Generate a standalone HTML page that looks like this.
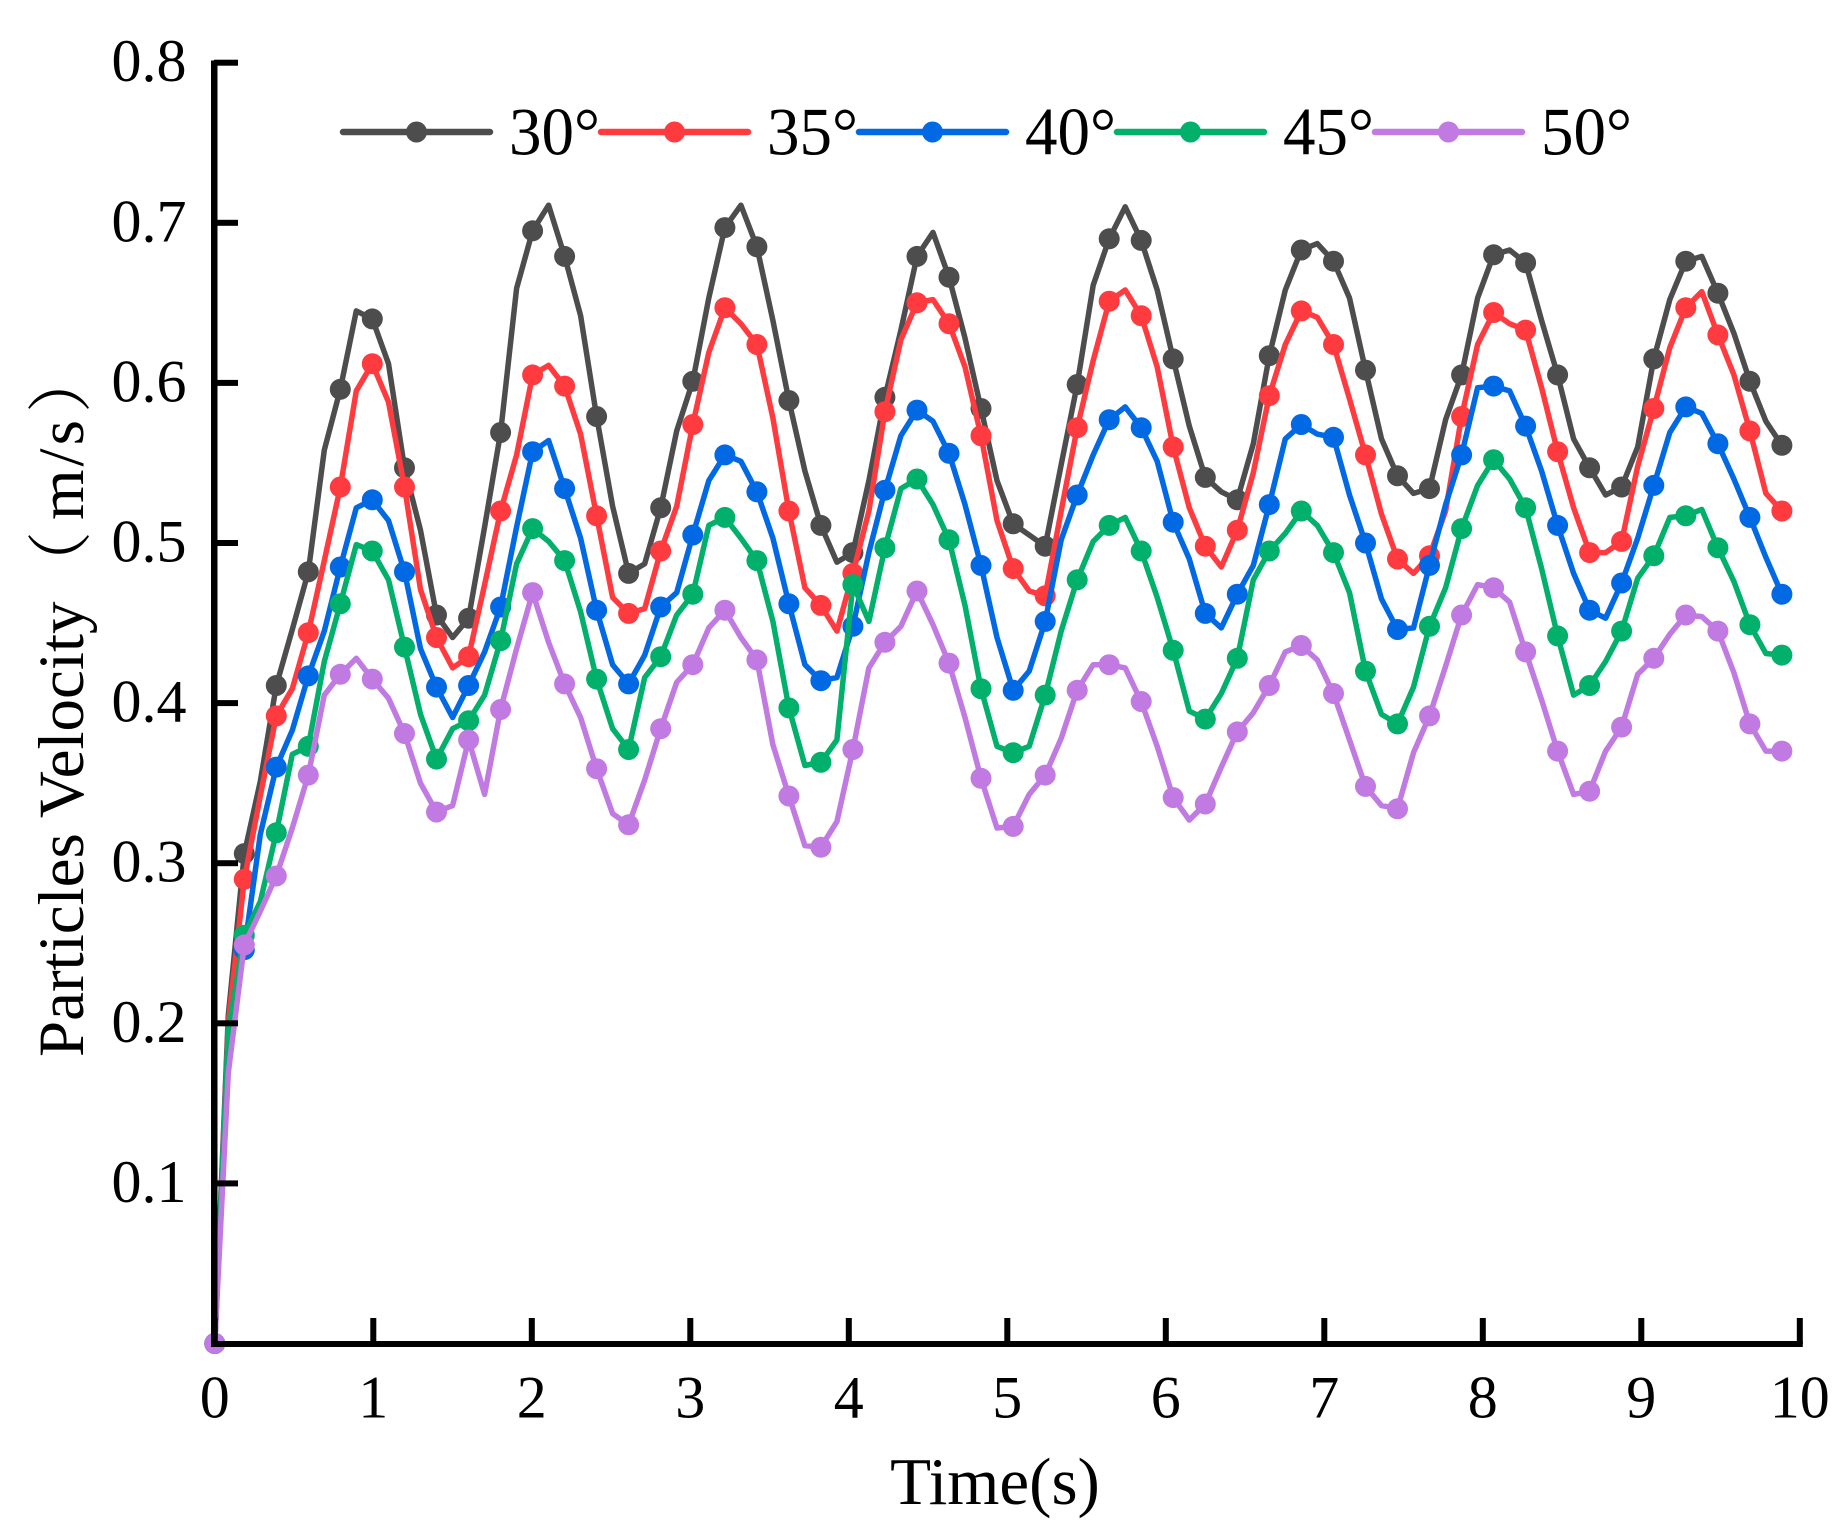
<!DOCTYPE html>
<html lang="en">
<head>
<meta charset="utf-8">
<title>Particles Velocity vs Time</title>
<style>
  html, body { margin: 0; padding: 0; background: #fff; }
  body { width: 1838px; height: 1536px; overflow: hidden; }
  svg { display: block; }
  text { font-family: "Liberation Serif", "Noto Serif CJK SC", serif; fill: #000; }
</style>
</head>
<body>
<svg id="chart" xmlns="http://www.w3.org/2000/svg" width="1838" height="1536" viewBox="0 0 1838 1536">
  <rect x="0" y="0" width="1838" height="1536" fill="#ffffff"></rect>
  <g id="series-layer"></g>
  <g id="axis-layer"></g>
  <g id="legend-layer"></g>
  <text x="995" y="1504" font-size="67" text-anchor="middle">Time(s)</text>
  <text transform="translate(83,1057) rotate(-90)" font-size="65"><tspan x="0">Particles Velocity</tspan><tspan x="461">（</tspan><tspan x="537">m</tspan><tspan dx="3">/</tspan><tspan dx="3">s</tspan><tspan x="644">）</tspan></text>
</svg>
<script>
const times = [
  0,0.085,0.186,0.287,0.388,0.489,0.590,0.691,0.792,0.893,
  0.994,1.096,1.197,1.298,1.399,1.500,1.601,1.702,1.803,1.904,
  2.005,2.106,2.207,2.308,2.409,2.510,2.611,2.712,2.813,2.914,
  3.016,3.117,3.218,3.319,3.420,3.521,3.622,3.723,3.824,3.925,
  4.026,4.127,4.228,4.329,4.430,4.531,4.632,4.733,4.834,4.935,
  5.037,5.138,5.239,5.340,5.441,5.542,5.643,5.744,5.845,5.946,
  6.047,6.148,6.249,6.350,6.451,6.552,6.653,6.754,6.855,6.956,
  7.058,7.159,7.260,7.361,7.462,7.563,7.664,7.765,7.866,7.967,
  8.068,8.169,8.270,8.371,8.472,8.573,8.674,8.775,8.876,8.977,
  9.079,9.180,9.281,9.382,9.483,9.584,9.685,9.786,9.887
];
const angle30 = [
  0,.205,.306,.351,.411,.446,.482,.558,.596,.645,
  .640,.612,.547,.508,.455,.441,.453,.510,.569,.659,
  .695,.711,.679,.642,.579,.523,.481,.487,.522,.570,
  .601,.653,.697,.711,.685,.639,.589,.545,.511,.488,
  .494,.539,.591,.633,.679,.694,.666,.628,.584,.539,
  .512,.505,.498,.549,.599,.661,.690,.710,.689,.658,
  .615,.573,.541,.532,.527,.562,.617,.658,.683,.687,
  .676,.653,.608,.565,.542,.531,.534,.577,.605,.653,
  .680,.683,.675,.639,.605,.565,.547,.530,.535,.560,
  .615,.652,.676,.679,.656,.631,.601,.576,.561
];
const angle35 = [
  0,.200,.290,.342,.392,.409,.444,.489,.535,.595,
  .612,.588,.535,.471,.441,.422,.429,.474,.520,.555,
  .605,.611,.598,.568,.517,.466,.456,.459,.495,.523,
  .574,.619,.647,.637,.624,.578,.520,.472,.461,.445,
  .481,.520,.582,.627,.650,.652,.637,.610,.567,.514,
  .484,.470,.467,.520,.572,.614,.651,.658,.642,.610,
  .560,.522,.498,.485,.508,.544,.592,.624,.645,.641,
  .624,.590,.555,.518,.490,.481,.492,.520,.579,.624,
  .644,.637,.633,.597,.557,.522,.494,.494,.501,.548,
  .584,.622,.647,.657,.630,.605,.570,.531,.520
];
const angle40 = [
  0,.195,.246,.318,.360,.383,.417,.445,.485,.522,
  .527,.514,.482,.434,.410,.391,.411,.432,.460,.510,
  .557,.564,.534,.503,.458,.424,.412,.430,.460,.469,
  .505,.539,.555,.551,.532,.503,.462,.424,.414,.416,
  .448,.494,.533,.567,.583,.576,.556,.524,.486,.441,
  .408,.420,.451,.502,.530,.555,.577,.585,.572,.551,
  .513,.490,.456,.447,.468,.486,.524,.565,.574,.568,
  .566,.530,.500,.465,.446,.447,.486,.524,.555,.597,
  .598,.595,.573,.545,.511,.481,.458,.453,.475,.503,
  .536,.569,.585,.581,.562,.540,.516,.491,.468
];
const angle45 = [
  0,.195,.255,.276,.319,.368,.373,.426,.462,.499,
  .495,.477,.435,.393,.365,.384,.389,.405,.439,.487,
  .509,.501,.489,.457,.415,.384,.371,.416,.429,.455,
  .468,.511,.516,.503,.489,.451,.397,.361,.363,.377,
  .474,.451,.497,.534,.540,.524,.502,.461,.409,.373,
  .369,.373,.405,.445,.477,.501,.511,.516,.495,.466,
  .433,.395,.390,.406,.428,.477,.495,.506,.520,.511,
  .494,.469,.420,.393,.387,.410,.448,.472,.509,.536,
  .552,.540,.522,.484,.442,.405,.411,.426,.445,.478,
  .492,.516,.517,.521,.497,.476,.449,.431,.430
];
const angle50 = [
  0,.169,.249,.270,.292,.322,.355,.405,.418,.428,
  .415,.403,.381,.350,.332,.336,.377,.343,.396,.434,
  .469,.438,.412,.391,.359,.331,.324,.352,.384,.413,
  .424,.447,.458,.441,.427,.374,.342,.311,.310,.326,
  .371,.422,.438,.448,.470,.449,.425,.391,.353,.322,
  .323,.343,.355,.378,.408,.424,.424,.422,.401,.373,
  .341,.327,.337,.360,.382,.394,.411,.432,.436,.427,
  .406,.377,.348,.336,.334,.369,.392,.423,.455,.474,
  .472,.463,.432,.402,.370,.343,.345,.370,.385,.418,
  .428,.443,.455,.454,.445,.419,.387,.370,.370
];
const seriesNames = ['30°', '35°', '40°', '45°', '50°'];
const seriesKeys = ['30-deg', '35-deg', '40-deg', '45-deg', '50-deg'];
const seriesColors = ['#4d4d4d', '#ff3b3f', '#0069e3', '#00b06b', '#c07ae2'];
const seriesValues = [angle30, angle35, angle40, angle45, angle50];
const xTickLabels = ['0', '1', '2', '3', '4', '5', '6', '7', '8', '9', '10'];
const yTickLabels = ['0.1', '0.2', '0.3', '0.4', '0.5', '0.6', '0.7', '0.8'];

const SVG_NS = 'http://www.w3.org/2000/svg';
function xScale(t) { return 214.8 + 158.5 * t; }
function yScale(v) { return 1343.5 - 1601 * v; }
function make(tag, parent, attrs) {
  const el = document.createElementNS(SVG_NS, tag);
  for (const k in attrs) el.setAttribute(k, attrs[k]);
  parent.appendChild(el);
  return el;
}

const seriesLayer = document.getElementById('series-layer');
const axisLayer = document.getElementById('axis-layer');
const legendLayer = document.getElementById('legend-layer');

seriesValues.forEach(function (vals, s) {
  const group = make('g', seriesLayer, {});
  
  
  const pts = vals.map(function (v, i) {
    return xScale(times[i]).toFixed(1) + ',' + yScale(v).toFixed(1);
  }).join(' ');
  const line = make('polyline', group, {
    points: pts, fill: 'none', stroke: seriesColors[s],
    'stroke-width': 5.5, 'stroke-linejoin': 'round', 'stroke-linecap': 'round'
  });
  
  
  vals.forEach(function (v, i) {
    if (i % 2 !== 0) return;
    const dot = make('circle', group, {
      cx: xScale(times[i]).toFixed(1), cy: yScale(v).toFixed(1), r: 10.5, fill: seriesColors[s]
    });
    
    
  });
});

/* axes */
const ySpine = make('rect', axisLayer, { x: 211, y: 60.5, width: 6.5, height: 1286.5, fill: '#000' });


const xSpine = make('rect', axisLayer, { x: 211, y: 1341, width: 1591.8, height: 6, fill: '#000' });



xTickLabels.forEach(function (lab) {
  const t = parseFloat(lab);
  const x = xScale(t);
  const tick = make('rect', axisLayer, { x: (x - 3).toFixed(1), y: 1318, width: 6, height: 26, fill: '#000' });
  
  
  const label = make('text', axisLayer, { x: x.toFixed(1), y: 1417.5, 'font-size': 60, 'text-anchor': 'middle' });
  label.textContent = lab;
  
  
});

yTickLabels.forEach(function (lab) {
  const v = parseFloat(lab);
  const y = yScale(v);
  const tick = make('rect', axisLayer, { x: 214, y: (y - 3).toFixed(1), width: 24, height: 6, fill: '#000' });
  
  
  const label = make('text', axisLayer, { x: 186.5, y: (y + 18.5).toFixed(1), 'font-size': 60, 'text-anchor': 'end' });
  label.textContent = lab;
  
  
});

/* legend */
seriesNames.forEach(function (name, s) {
  const x0 = 340 + s * 258;
  const entry = make('g', legendLayer, {});
  
  
  make('line', entry, {
    x1: x0 + 3, y1: 132, x2: x0 + 150, y2: 132, stroke: seriesColors[s],
    'stroke-width': 6.5, 'stroke-linecap': 'round'
  });
  make('circle', entry, { cx: x0 + 76.5, cy: 132, r: 10.5, fill: seriesColors[s] });
  const label = make('text', entry, {
    x: x0 + 169, y: 154.5, 'font-size': 68, textLength: 91, lengthAdjust: 'spacingAndGlyphs'
  });
  label.textContent = name;
});
</script>
</body>
</html>
